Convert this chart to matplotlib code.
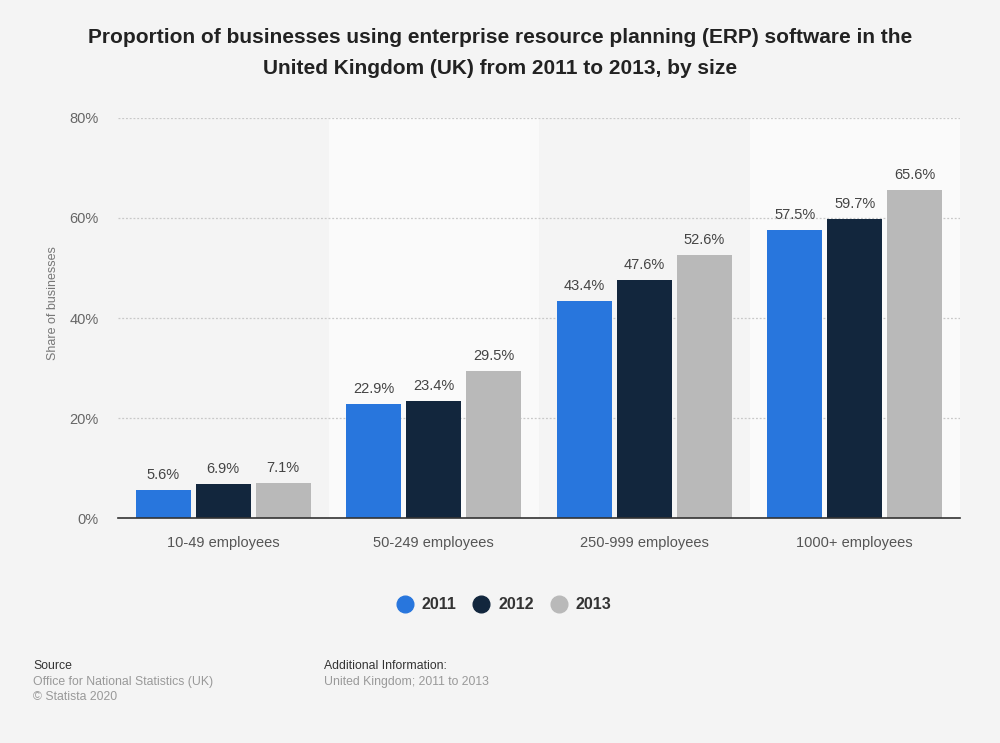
import numpy as np
import matplotlib
matplotlib.use("Agg")
from matplotlib import pyplot as plt

plt.rcParams['font.family'] = ['Liberation Sans', 'DejaVu Sans']

categories = ["10-49 employees", "50-249 employees", "250-999 employees", "1000+ employees"]
years = ["2011", "2012", "2013"]
v2011 = [5.6, 22.9, 43.4, 57.5]
v2012 = [6.9, 23.4, 47.6, 59.7]
v2013 = [7.1, 29.5, 52.6, 65.6]
colors = ["#2876dd", "#12263d", "#b9b9b9"]
yticks = [0, 20, 40, 60, 80]

bg = "#f4f4f4"
fig = plt.figure(figsize=(10, 7.43), dpi=100, facecolor=bg)
ax = fig.add_axes([0.118, 0.3028, 0.842, 0.5384])
ax.set_facecolor(bg)

x = np.arange(len(categories))
# alternating bands
for i in x:
    if i % 2 == 1:
        ax.axvspan(i - 0.5, i + 0.5, color="#fafafa", zorder=0, lw=0)

w = 0.26
step = 0.285
series = [v2011, v2012, v2013]
for k, vals in enumerate(series):
    pos = x + (k - 1) * step
    ax.bar(pos, vals, width=w, color=colors[k], zorder=3, label=years[k])
    for p, v in zip(pos, vals):
        ax.text(p, v + 1.6, f"{v}%", ha="center", va="bottom", fontsize=10.5, color="#444444", zorder=4)

ax.set_xlim(-0.5, len(categories) - 0.5)
ax.set_ylim(0, 80)
ax.set_yticks(yticks)
ax.set_yticklabels([f"{t}%" for t in yticks])
ax.set_xticks(x)
ax.set_xticklabels(categories)
ax.tick_params(axis="both", length=0, labelsize=10.5, colors="#555555")
ax.tick_params(axis="x", pad=13)
ax.tick_params(axis="y", pad=14)
for t in ax.get_yticklabels():
    t.set_color("#666666")

ax.grid(axis="y", linestyle=(0, (1.5, 1.5)), color="#c8c8c8", lw=0.9, zorder=1)
for s in ["top", "right", "left"]:
    ax.spines[s].set_visible(False)
ax.spines["bottom"].set_color("#333333")
ax.spines["bottom"].set_linewidth(1.2)
ax.spines["bottom"].set_zorder(5)

fig.text(0.053, 0.592, "Share of businesses", fontsize=9, color="#777777",
         rotation=90, ha="center", va="center")

fig.text(0.5, 0.962, "Proportion of businesses using enterprise resource planning (ERP) software in the\nUnited Kingdom (UK) from 2011 to 2013, by size",
         ha="center", va="top", fontsize=15, fontweight="bold", color="#222222", linespacing=1.77)

handles = [plt.Line2D([], [], marker="o", ls="", markersize=12, color=c) for c in colors]
fig.legend(handles, years, loc="center", bbox_to_anchor=(0.5, 0.186), ncol=3, frameon=False,
           handletextpad=0.05, columnspacing=0.55, prop={"weight": "bold", "size": 11.5})
for t in fig.legends[0].get_texts():
    t.set_color("#333333")

fig.text(0.033, 0.104, "Source", fontsize=8.8, color="#333333", va="center")
fig.text(0.033, 0.082, "Office for National Statistics (UK)", fontsize=8.8, color="#999999", va="center")
fig.text(0.033, 0.062, "© Statista 2020", fontsize=8.8, color="#999999", va="center")
fig.text(0.324, 0.104, "Additional Information:", fontsize=8.8, color="#333333", va="center")
fig.text(0.324, 0.082, "United Kingdom; 2011 to 2013", fontsize=8.8, color="#999999", va="center")

fig.savefig("out.png", dpi=100, facecolor=bg)
